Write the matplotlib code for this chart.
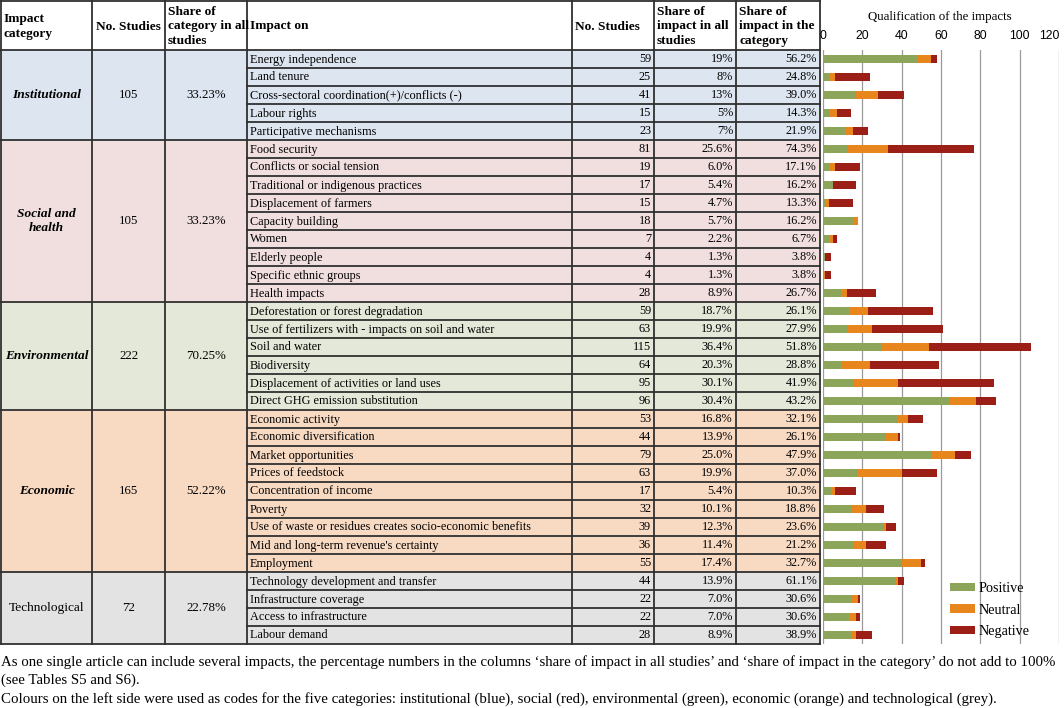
import matplotlib
matplotlib.use("Agg")
import matplotlib.pyplot as plt
from matplotlib.patches import Rectangle
import numpy as np

plt.rcParams['font.family'] = ['Liberation Serif', 'DejaVu Serif']

# ---------------- data ----------------
categories = ["Institutional", "Social and\nhealth", "Environmental", "Economic", "Technological"]
category_studies = [105, 105, 222, 165, 72]
category_share = ["33.23%", "33.23%", "70.25%", "52.22%", "22.78%"]
category_sizes = [5, 9, 6, 9, 4]
category_colors = ["#dde5f0", "#f1dfe0", "#e3e8d8", "#f8dac3", "#e3e3e3"]

impacts = [
    "Energy independence", "Land tenure", "Cross-sectoral coordination(+)/conflicts (-)",
    "Labour rights", "Participative mechanisms",
    "Food security", "Conflicts or social tension", "Traditional or indigenous practices",
    "Displacement of farmers", "Capacity building", "Women", "Elderly people",
    "Specific ethnic groups", "Health impacts",
    "Deforestation or forest degradation", "Use of fertilizers with - impacts on soil and water",
    "Soil and water", "Biodiversity", "Displacement of activities or land uses",
    "Direct GHG emission substitution",
    "Economic activity", "Economic diversification", "Market opportunities",
    "Prices of feedstock", "Concentration of income", "Poverty",
    "Use of waste or residues creates socio-economic benefits",
    "Mid and long-term revenue's certainty", "Employment",
    "Technology development and transfer", "Infrastructure coverage",
    "Access to infrastructure", "Labour demand",
]
impact_studies = [59, 25, 41, 15, 23,
                  81, 19, 17, 15, 18, 7, 4, 4, 28,
                  59, 63, 115, 64, 95, 96,
                  53, 44, 79, 63, 17, 32, 39, 36, 55,
                  44, 22, 22, 28]
share_all = ["19%", "8%", "13%", "5%", "7%",
             "25.6%", "6.0%", "5.4%", "4.7%", "5.7%", "2.2%", "1.3%", "1.3%", "8.9%",
             "18.7%", "19.9%", "36.4%", "20.3%", "30.1%", "30.4%",
             "16.8%", "13.9%", "25.0%", "19.9%", "5.4%", "10.1%", "12.3%", "11.4%", "17.4%",
             "13.9%", "7.0%", "7.0%", "8.9%"]
share_cat = ["56.2%", "24.8%", "39.0%", "14.3%", "21.9%",
             "74.3%", "17.1%", "16.2%", "13.3%", "16.2%", "6.7%", "3.8%", "3.8%", "26.7%",
             "26.1%", "27.9%", "51.8%", "28.8%", "41.9%", "43.2%",
             "32.1%", "26.1%", "47.9%", "37.0%", "10.3%", "18.8%", "23.6%", "21.2%", "32.7%",
             "61.1%", "30.6%", "30.6%", "38.9%"]

positive = [48, 3, 17, 3, 11,
            12, 3, 5, 1, 15, 3, 1, 0, 9,
            13, 12, 30, 9, 16, 64,
            38, 32, 55, 18, 4, 14, 31, 15, 40,
            37, 14, 13, 14]
neutral = [7, 3, 11, 4, 4,
           21, 3, 0, 2, 3, 2, 0, 1, 3,
           10, 13, 24, 15, 22, 14,
           5, 6, 12, 22, 2, 8, 1, 7, 10,
           1, 4, 4, 3]
negative = [3, 18, 13, 7, 8,
            44, 13, 12, 12, 0, 2, 3, 3, 15,
            33, 36, 52, 35, 49, 10,
            8, 1, 8, 18, 11, 9, 5, 10, 2,
            3, 1, 2, 8]
xticks = [0, 20, 40, 60, 80, 100, 120]

# ---------------- figure ----------------
W, H = 1064, 708
fig = plt.figure(figsize=(W / 100, H / 100), dpi=100)
ax = fig.add_axes([0, 0, 1, 1])
ax.set_xlim(0, W)
ax.set_ylim(H, 0)
ax.axis("off")

cols = [1, 92, 165, 247, 572, 654, 736, 820]
top, head_bot, rh = 1, 50, 18
n = len(impacts)
bottom = head_bot + n * rh
lc, lw = "#303030", 1.3
fs = 8.8
hfs = 9.6
hls = 1.24

# header
hdr_y = 26.5
ax.text(4, hdr_y, "Impact\ncategory", ha="left", va="center", fontsize=hfs,
        fontweight="bold", linespacing=1.3)
ax.text(96, hdr_y, "No. Studies", ha="left", va="center", fontsize=hfs, fontweight="bold")
ax.text(168, hdr_y, "Share of\ncategory in all\nstudies", ha="left", va="center",
        fontsize=hfs, fontweight="bold", linespacing=hls)
ax.text(250, hdr_y, "Impact on", ha="left", va="center", fontsize=hfs, fontweight="bold")
ax.text(575, hdr_y, "No. Studies", ha="left", va="center", fontsize=hfs, fontweight="bold")
ax.text(657, hdr_y, "Share of\nimpact in all\nstudies", ha="left", va="center",
        fontsize=hfs, fontweight="bold", linespacing=hls)
ax.text(739, hdr_y, "Share of\nimpact in the\ncategory", ha="left", va="center",
        fontsize=hfs, fontweight="bold", linespacing=hls)

# body
r0 = 0
for gi, size in enumerate(category_sizes):
    y0 = head_bot + r0 * rh
    y1 = y0 + size * rh
    ax.add_patch(Rectangle((cols[0], y0), cols[-1] - cols[0], y1 - y0,
                           facecolor=category_colors[gi], edgecolor="none", zorder=0))
    yc = (y0 + y1) / 2
    tech = categories[gi] == "Technological"
    ax.text((cols[0] + cols[1]) / 2, yc, categories[gi], ha="center", va="center",
            fontsize=fs + 0.8, fontweight="normal" if tech else "bold",
            fontstyle="normal" if tech else "italic", linespacing=1.25)
    ax.text((cols[1] + cols[2]) / 2, yc, str(category_studies[gi]), ha="center", va="center", fontsize=fs + 0.5)
    ax.text((cols[2] + cols[3]) / 2, yc, category_share[gi], ha="center", va="center", fontsize=fs + 0.5)
    for k in range(size):
        i = r0 + k
        ry = head_bot + i * rh + rh / 2 + 0.5
        ax.text(cols[3] + 3, ry, impacts[i], ha="left", va="center", fontsize=fs)
        ax.text(cols[5] - 3, ry, str(impact_studies[i]), ha="right", va="center", fontsize=fs)
        ax.text(cols[6] - 3, ry, share_all[i], ha="right", va="center", fontsize=fs)
        ax.text(cols[7] - 3, ry, share_cat[i], ha="right", va="center", fontsize=fs)
        if k > 0:
            yl = head_bot + i * rh
            ax.plot([cols[3], cols[7]], [yl, yl], color=lc, lw=lw)
    ax.plot([cols[0], cols[7]], [y1, y1], color=lc, lw=lw)
    r0 += size

ax.plot([cols[0], cols[7]], [top, top], color=lc, lw=lw)
ax.plot([cols[0], cols[7]], [head_bot, head_bot], color=lc, lw=lw)
for x in cols:
    ax.plot([x, x], [top, bottom], color=lc, lw=lw)

# caption
cap_fs = 10.7
ax.text(1, 662, "As one single article can include several impacts, the percentage numbers in the columns \u2018share of impact in all studies\u2019 and \u2018share of impact in the category\u2019 do not add to 100%",
        ha="left", va="center", fontsize=cap_fs)
ax.text(1, 680, "(see Tables S5 and S6).", ha="left", va="center", fontsize=cap_fs)
ax.text(1, 699, "Colours on the left side were used as codes for the five categories: institutional (blue), social (red), environmental (green), economic (orange) and technological (grey).",
        ha="left", va="center", fontsize=cap_fs)

# ---------------- bar chart ----------------
bx0, bx1 = 823, 1059
bax = fig.add_axes([bx0 / W, (H - bottom) / H, (bx1 - bx0) / W, (bottom - head_bot) / H])
ypos = np.arange(n)
pos = np.array(positive)
neu = np.array(neutral)
neg = np.array(negative)
bh = 0.4
bax.barh(ypos, pos, height=bh, color="#8ca55a", label="Positive", zorder=3)
bax.barh(ypos, neu, left=pos, height=bh, color="#e8861e", label="Neutral", zorder=3)
bax.barh(ypos, neg, left=pos + neu, height=bh, color="#9b1e17", label="Negative", zorder=3)
bax.set_xlim(0, 120)
bax.set_ylim(n - 0.5, -0.5)
bax.set_xticks(xticks)
bax.set_xticklabels([str(t) for t in xticks], fontfamily="Liberation Sans", fontsize=8.8)
bax.xaxis.tick_top()
bax.tick_params(axis="x", length=0, pad=6)
bax.xaxis.get_major_ticks()[-1].label2.set_horizontalalignment("right")
bax.set_yticks([])
bax.grid(axis="x", color="#9a9a9a", lw=0.9, zorder=0)
for s in bax.spines.values():
    s.set_visible(False)
bax.patch.set_alpha(0)

fig.text(940 / W, 1 - 17 / H, "Qualification of the impacts", ha="center", va="center", fontsize=9.3)

bax.legend(loc="upper left", bbox_to_anchor=(937 / W, 1 - 569 / H), bbox_transform=fig.transFigure,
           frameon=False, fontsize=10.2, handlelength=1.75, handleheight=0.5, labelspacing=0.62,
           handletextpad=0.25)

fig.savefig("out.png", dpi=100)
